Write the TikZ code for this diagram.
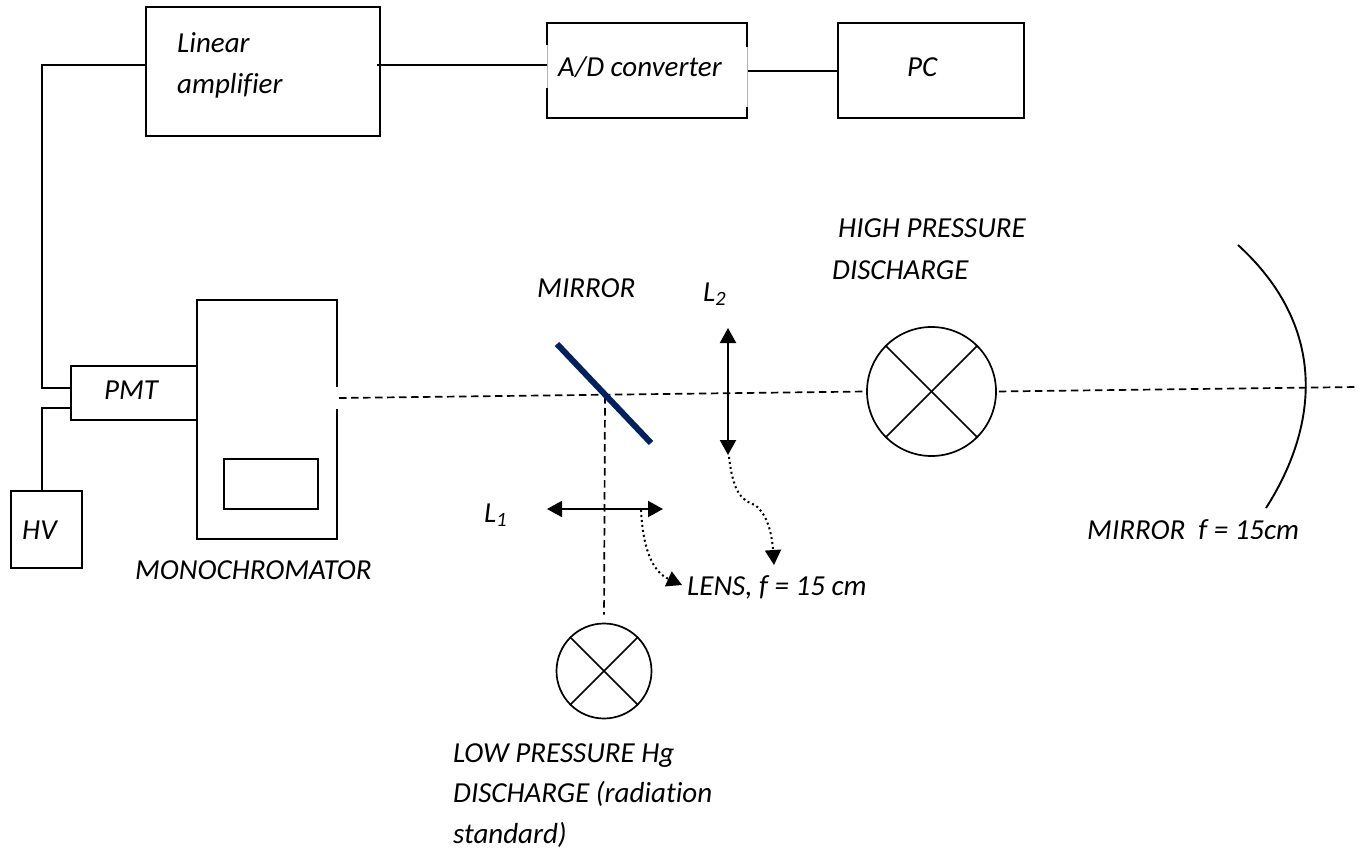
\documentclass[tikz,border=0pt]{standalone}
\usepackage{fontspec}
\setmainfont[Ligatures=NoCommon]{Carlito}
\usetikzlibrary{arrows.meta}
\tikzset{
  x=1pt,y=-1pt,
  box/.style={draw,line width=1.9pt,inner sep=0pt},
  wire/.style={line width=1.6pt},
  beam/.style={line width=1.7pt,dash pattern=on 7.5pt off 4.5pt},
  lens/.style={line width=2pt,{Triangle[width=16pt,length=15pt]}-{Triangle[width=16pt,length=15pt]}},
  pointer/.style={line width=2pt,dash pattern=on 2pt off 3pt,-{Triangle[width=16pt,length=15pt]}},
  lamp/.style={circle,draw,line width=1.7pt,inner sep=0pt},
  lbl/.style={font=\fontsize{29}{35}\selectfont\itshape,inner sep=0pt,anchor=base west}
}
\begin{document}
\begin{tikzpicture}
\useasboundingbox (0,0) rectangle (1364,850);
% boxes
\draw[box] (146,7) rectangle (380,136);
\draw[box] (547,23) rectangle (747,118);
\draw[box] (838,23) rectangle (1024,118);
\draw[box] (197,300) rectangle (337,539);
\draw[box] (224,459) rectangle (318,509);
\draw[box] (71,366) rectangle (197,420);
\draw[box] (11,491) rectangle (82,568);
% faded edges of the A/D box
\draw[white,line width=2.4pt] (547,45) -- (547,88);
\draw[white,line width=2.4pt] (747,47) -- (747,107);
\draw[gray!60,line width=.6pt] (547,45) -- (547,88);
\draw[gray!60,line width=.6pt] (747,47) -- (747,107);
\coordinate (linL) at (146,65);
\coordinate (linR) at (377,65);
\coordinate (adL) at (547,65);
\coordinate (adR) at (748,71);
\coordinate (pcL) at (838,71);
\coordinate (pmtA) at (71,388);
\coordinate (pmtB) at (71,408);
\coordinate (hvT) at (42,491);
\draw[wire] (linL) -| (42,388) -- (pmtA);
\draw[wire] (linR) -- (adL);
\draw[wire] (adR) -- (pcL);
\draw[wire] (hvT) |- (pmtB);
\fill[white] (335,387) rectangle (339,409);
% lamps
\node[lamp,minimum size=129pt] (high) at (931.5,391.5) {};
\node[lamp,minimum size=95pt] (low) at (604,671) {};
\foreach \n in {high,low}{
  \draw[line width=1.7pt] (\n.45) -- (\n.225);
  \draw[line width=1.7pt] (\n.135) -- (\n.315);
}
% beams
\coordinate (monoOut) at (339,398);
\coordinate (mirC) at (605,396);
\coordinate (beamEnd) at (1357,387);
\draw[beam] (monoOut) -- (high.west);
\draw[beam,shorten <=2pt] (high.east) -- (beamEnd);
\draw[beam,shorten >=8pt] (mirC) -- (low.north);
% mirror
\draw[line width=6pt,color={rgb,255:red,0;green,32;blue,96}] (557,344) -- (651,443);
% lenses
\coordinate (l2t) at (728,328);
\coordinate (l2b) at (728,455);
\coordinate (l1l) at (547,509);
\coordinate (l1r) at (663,509);
\draw[lens] (l2t) -- (l2b);
\draw[lens] (l1l) -- (l1r);
% pointers
\coordinate (p1s) at (641,510);
\coordinate (p1e) at (682,585);
\coordinate (p2s) at (729,457);
\coordinate (p2e) at (774,565);
\draw[pointer] (p1s) .. controls (643,550) and (653,572) .. (p1e);
\draw[pointer] (p2s) .. controls (733,490) and (740,500) .. (755,505) .. controls (768,515) and (772,535) .. (p2e);
% curved mirror
\coordinate (ma) at (1238,245);
\coordinate (mb) at (1266,508);
\draw[line width=1.9pt] (ma) .. controls (1331,330) and (1316,430) .. (mb);
% labels
\node[lbl] (t1) at (177,53) {Linear};
\node[lbl] (t2) at (177,94) {amplifier};
\node[lbl] (t3) at (558,77) {A/D converter};
\node[lbl] (t4) at (907,77) {PC};
\node[lbl] (t5) at (104,399) {PMT};
\node[lbl] (t6) at (22,539) {HV};
\node[lbl] (t7) at (135,579) {MONOCHROMATOR};
\node[lbl] (t8) at (537,297) {MIRROR};
\node[lbl] (t9) at (703,301) {L\textsubscript{2}};
\node[lbl] (t10) at (484,522) {L\textsubscript{1}};
\node[lbl] (t11) at (687,595) {LENS, f = 15 cm};
\node[lbl] (t12) at (838,238) {HIGH PRESSURE};
\node[lbl] (t13) at (832,279) {DISCHARGE};
\node[lbl] (t14) at (453,762) {LOW PRESSURE Hg};
\node[lbl] (t15) at (453,802) {DISCHARGE (radiation};
\node[lbl] (t16) at (453,843) {standard)};
\begin{scope}
\clip (1070,512) rectangle (1320,538);
\node[lbl] (t17) at (1087,539) {MIRROR\ \ f = 15cm};
\end{scope}
\end{tikzpicture}
\end{document}
